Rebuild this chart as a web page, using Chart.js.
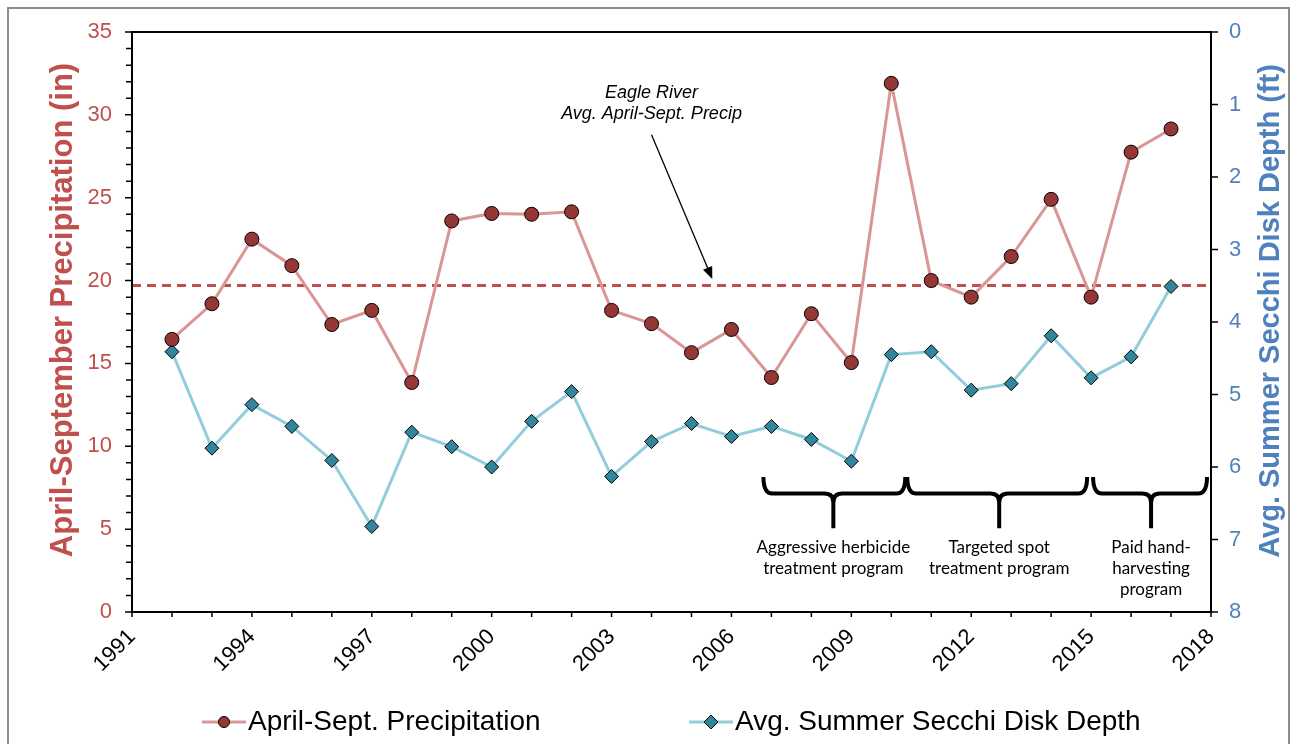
<!DOCTYPE html>
<html>
<head>
<meta charset="utf-8">
<script src="https://cdn.jsdelivr.net/npm/chart.js@4.4.0/dist/chart.umd.min.js"></script>
<style>html,body{margin:0;padding:0;background:#fff}</style>
</head>
<body>
<canvas id="myChart" width="1296" height="744"></canvas>
<script>
// dados
var years = [1992, 1993, 1994, 1995, 1996, 1997, 1998, 1999, 2000, 2001, 2002, 2003, 2004,
  2005, 2006, 2007, 2008, 2009, 2010, 2011, 2012, 2013, 2014, 2015, 2016, 2017];
var precip = [16.45, 18.6, 22.5, 20.9, 17.35, 18.2, 13.85, 23.6, 24.05, 24.0, 24.15, 18.2, 17.4,
  15.65, 17.05, 14.15, 18.0, 15.05, 31.9, 20.0, 19.0, 21.45, 24.9, 19.0, 27.75, 29.15];
var secchi = [4.41, 5.74, 5.14, 5.44, 5.91, 6.82, 5.52, 5.72, 6.0, 5.37, 4.96, 6.13, 5.65,
  5.4, 5.58, 5.44, 5.62, 5.92, 4.45, 4.41, 4.94, 4.85, 4.19, 4.77, 4.48, 3.51];
var avgPrecip = 19.7;
var xTicks = [1991, 1994, 1997, 2000, 2003, 2006, 2009, 2012, 2015, 2018];
var precipTicks = [0, 5, 10, 15, 20, 25, 30, 35];
var secchiTicks = [0, 1, 2, 3, 4, 5, 6, 7, 8];
var seriesNames = ['April-Sept. Precipitation', 'Avg. Summer Secchi Disk Depth'];

// programas (anos de início / fim)
var programStart = [2006.8, 2010.4, 2015.05];
var programEnd = [2010.35, 2014.9, 2017.9];
var programMid = [2008.55, 2012.7, 2016.5];
var programLabels = [
  ['Aggressive herbicide', 'treatment program'],
  ['Targeted spot', 'treatment program'],
  ['Paid hand-', 'harvesting', 'program']
];

var RED = '#C0504D';
var BLUE = '#4F81BD';

function pts(ys) {
  return years.map(function (y, i) { return { x: y, y: ys[i] }; });
}

function brace(ctx, x1, x2, xm, yTop, yBar, yTip) {
  var r = 9;
  ctx.beginPath();
  ctx.moveTo(x1, yTop);
  ctx.quadraticCurveTo(x1, yBar, x1 + r, yBar);
  ctx.lineTo(xm - r, yBar);
  ctx.quadraticCurveTo(xm, yBar, xm, yBar + r);
  ctx.lineTo(xm, yTip);
  ctx.moveTo(xm, yBar + r);
  ctx.quadraticCurveTo(xm, yBar, xm + r, yBar);
  ctx.lineTo(x2 - r, yBar);
  ctx.quadraticCurveTo(x2, yBar, x2, yTop);
  ctx.stroke();
}

var extras = {
  id: 'extras',
  afterDraw: function (chart) {
    var ctx = chart.ctx;
    var a = chart.chartArea;
    var sx = chart.scales.x, sy = chart.scales.y, sy2 = chart.scales.y2;
    ctx.save();

    // moldura externa
    ctx.strokeStyle = '#8c8c8c';
    ctx.lineWidth = 2;
    ctx.strokeRect(8, 8, 1281, 760);

    // caixa do gráfico
    ctx.strokeStyle = '#000';
    ctx.lineWidth = 2;
    ctx.strokeRect(a.left, a.top, a.right - a.left, a.bottom - a.top);

    // marcas dos eixos
    ctx.lineWidth = 1.5;
    ctx.beginPath();
    for (var yr = 1991; yr <= 2018; yr++) {
      var px = sx.getPixelForValue(yr);
      ctx.moveTo(px, a.bottom); ctx.lineTo(px, a.bottom + 5);
    }
    for (var v = 0; v <= 35; v++) {
      var py = sy.getPixelForValue(v);
      var l2 = v % 5 === 0 ? 7 : 6;
      ctx.moveTo(a.left, py); ctx.lineTo(a.left - l2, py);
    }
    for (var d = 0; d <= 8; d++) {
      var py2 = sy2.getPixelForValue(d);
      ctx.moveTo(a.right, py2); ctx.lineTo(a.right + 7, py2);
    }
    ctx.stroke();

    // títulos dos eixos
    ctx.textAlign = 'center';
    ctx.textBaseline = 'middle';
    ctx.fillStyle = RED;
    ctx.font = 'bold 31px "Liberation Sans", Arial, sans-serif';
    ctx.save();
    ctx.translate(63, 310);
    ctx.rotate(-Math.PI / 2);
    ctx.fillText('April-September Precipitation (in)', 0, 0);
    ctx.restore();
    ctx.fillStyle = BLUE;
    ctx.font = 'bold 29px "Liberation Sans", Arial, sans-serif';
    ctx.save();
    ctx.translate(1271, 311);
    ctx.rotate(-Math.PI / 2);
    ctx.fillText('Avg. Summer Secchi Disk Depth (ft)', 0, 0);
    ctx.restore();

    // anotação da média
    ctx.fillStyle = '#000';
    ctx.font = 'italic 18px "Liberation Sans", Arial, sans-serif';
    ctx.fillText('Eagle River', sx.getPixelForValue(2004.0), sy.getPixelForValue(31.3));
    ctx.fillText('Avg. April-Sept. Precip', sx.getPixelForValue(2004.0), sy.getPixelForValue(30.05));
    var ax0 = sx.getPixelForValue(2004.0), ay0 = sy.getPixelForValue(28.8);
    var ax1 = sx.getPixelForValue(2005.52), ay1 = sy.getPixelForValue(20.1);
    var ang = Math.atan2(ay1 - ay0, ax1 - ax0);
    ctx.strokeStyle = '#000';
    ctx.lineWidth = 1.3;
    ctx.beginPath();
    ctx.moveTo(ax0, ay0);
    ctx.lineTo(ax1 - 10 * Math.cos(ang), ay1 - 10 * Math.sin(ang));
    ctx.stroke();
    ctx.beginPath();
    ctx.moveTo(ax1, ay1);
    ctx.lineTo(ax1 - 12 * Math.cos(ang) + 5 * Math.sin(ang), ay1 - 12 * Math.sin(ang) - 5 * Math.cos(ang));
    ctx.lineTo(ax1 - 12 * Math.cos(ang) - 5 * Math.sin(ang), ay1 - 12 * Math.sin(ang) + 5 * Math.cos(ang));
    ctx.closePath();
    ctx.fill();

    // chaves dos programas
    ctx.lineWidth = 4;
    ctx.lineJoin = 'round';
    var yTop = sy.getPixelForValue(8.15), yBar = sy.getPixelForValue(7.15), yTip = sy.getPixelForValue(5.05);
    ctx.font = '17px Lato, "Open Sans", sans-serif';
    for (var k = 0; k < programStart.length; k++) {
      brace(ctx, sx.getPixelForValue(programStart[k]), sx.getPixelForValue(programEnd[k]),
        sx.getPixelForValue(programMid[k]), yTop, yBar, yTip);
      var tx = sx.getPixelForValue(programMid[k]);
      programLabels[k].forEach(function (t, j) {
        ctx.fillText(t, tx, sy.getPixelForValue(3.9 - j * 1.26));
      });
    }

    // legenda
    var ds = chart.data.datasets;
    var items = [{ ds: ds[0], x: 202 }, { ds: ds[1], x: 689 }];
    ctx.font = '28px "Liberation Sans", Arial, sans-serif';
    ctx.textAlign = 'left';
    items.forEach(function (it, i) {
      var y = 722;
      ctx.strokeStyle = it.ds.borderColor;
      ctx.lineWidth = 3;
      ctx.beginPath(); ctx.moveTo(it.x, y); ctx.lineTo(it.x + 44, y); ctx.stroke();
      ctx.fillStyle = it.ds.pointBackgroundColor;
      ctx.strokeStyle = '#000';
      ctx.lineWidth = 1;
      ctx.beginPath();
      if (it.ds.pointStyle === 'circle') {
        ctx.arc(it.x + 22, y, 5.5, 0, Math.PI * 2);
      } else {
        ctx.moveTo(it.x + 22, y - 7); ctx.lineTo(it.x + 29, y);
        ctx.lineTo(it.x + 22, y + 7); ctx.lineTo(it.x + 15, y); ctx.closePath();
      }
      ctx.fill(); ctx.stroke();
      ctx.fillStyle = '#000';
      ctx.fillText(seriesNames[i], it.x + 46, y);
    });
    ctx.restore();
  }
};

var ctx = document.getElementById('myChart').getContext('2d');
var chart = new Chart(ctx, {
  type: 'line',
  data: {
    datasets: [{
      label: seriesNames[0],
      data: pts(precip),
      yAxisID: 'y',
      borderColor: '#D99694',
      borderWidth: 3,
      pointStyle: 'circle',
      pointRadius: 7,
      pointBackgroundColor: '#953735',
      pointBorderColor: '#000',
      pointBorderWidth: 1
    }, {
      label: seriesNames[1],
      data: pts(secchi),
      yAxisID: 'y2',
      borderColor: '#92CDDC',
      borderWidth: 3,
      pointStyle: 'rectRot',
      pointRadius: 7,
      pointBackgroundColor: '#31859C',
      pointBorderColor: '#000',
      pointBorderWidth: 1
    }, {
      label: 'avg',
      data: [{ x: 1991, y: avgPrecip }, { x: 2018, y: avgPrecip }],
      yAxisID: 'y',
      borderColor: RED,
      borderWidth: 3,
      borderDash: [9, 6],
      pointRadius: 0
    }]
  },
  options: {
    responsive: false,
    devicePixelRatio: 1,
    animation: false,
    layout: { padding: { top: 32, left: 0, right: 0, bottom: 0 } },
    plugins: { legend: { display: false }, tooltip: { enabled: false } },
    scales: {
      x: {
        type: 'linear', min: 1991, max: 2018,
        grid: { display: false }, border: { display: false },
        afterBuildTicks: function (s) { s.ticks = xTicks.map(function (v) { return { value: v }; }); },
        afterFit: function (s) { s.height = 132; },
        ticks: {
          autoSkip: false, minRotation: 45, maxRotation: 45, padding: 4,
          color: '#000', font: { family: '"Liberation Sans", Arial', size: 22 },
          callback: function (v) { return String(v); }
        }
      },
      y: {
        position: 'left', min: 0, max: 35,
        grid: { display: false }, border: { display: false },
        afterBuildTicks: function (s) { s.ticks = precipTicks.map(function (v) { return { value: v }; }); },
        afterFit: function (s) { s.width = 132; },
        ticks: { padding: 12, color: RED, font: { family: '"Liberation Sans", Arial', size: 22 } }
      },
      y2: {
        position: 'right', min: 0, max: 8, reverse: true,
        grid: { display: false }, border: { display: false },
        afterBuildTicks: function (s) { s.ticks = secchiTicks.map(function (v) { return { value: v }; }); },
        afterFit: function (s) { s.width = 85; },
        ticks: { padding: 10, color: BLUE, font: { family: '"Liberation Sans", Arial', size: 22 } }
      }
    }
  },
  plugins: [extras]
});
</script>
</body>
</html>
